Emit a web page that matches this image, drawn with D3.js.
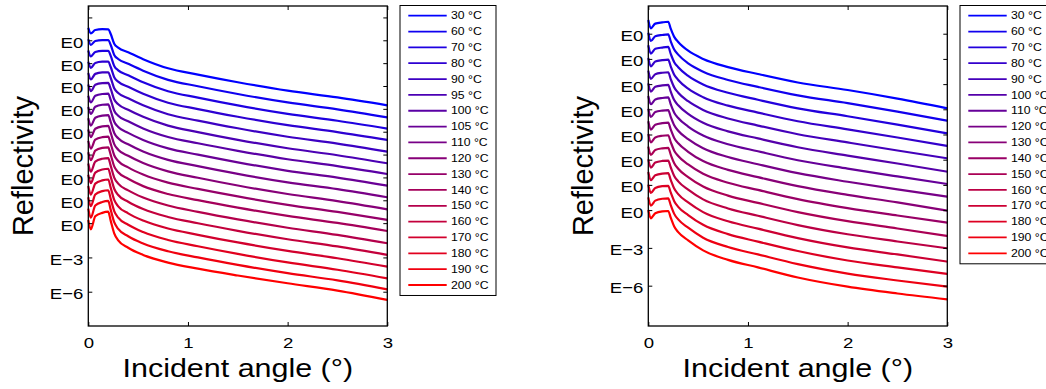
<!DOCTYPE html>
<html>
<head>
<meta charset="utf-8">
<script src="https://cdn.jsdelivr.net/npm/d3@7"></script>
<style>
  body { margin: 0; background: #fff; }
  svg { display: block; }
  text { font-family: "Liberation Sans", Arial, Helvetica, sans-serif; fill: #000; }
</style>
</head>
<body>
<svg id="fig" width="1046" height="389"></svg>
<script>
// Incident angle grid (degrees) shared by every curve
const angles = [0, 0.025, 0.07, 0.14, 0.2, 0.225, 0.26, 0.3, 0.4, 0.55, 0.8, 1.1, 1.5, 2.0, 2.5, 3.0];

// Left panel: temperatures, decade shift of each curve, log10 reflectivity of each curve
const tempsLeft = [30, 60, 70, 80, 90, 95, 100, 105, 110, 120, 130, 140, 150, 160, 170, 180, 190, 200];
const shiftLeft = [17, 16, 15, 14, 13, 12, 11, 10, 9, 8, 7, 6, 5, 4, 3, 2, 1, 0];
const logReflLeft = [
  [0.08, -0.39, -0.10, -0.03, -0.04, -0.45, -1.30, -1.65, -2.05, -2.65, -3.45, -4.00, -4.67, -5.41, -6.00, -6.69],
  [0.09, -0.40, -0.06,  0.02,  0.02, -0.41, -1.28, -1.64, -2.06, -2.66, -3.46, -4.02, -4.70, -5.44, -6.04, -6.74],
  [0.10, -0.41, -0.02,  0.08,  0.08, -0.37, -1.25, -1.63, -2.06, -2.67, -3.46, -4.02, -4.70, -5.44, -6.04, -6.73],
  [0.12, -0.42,  0.02,  0.13,  0.14, -0.34, -1.23, -1.62, -2.07, -2.68, -3.46, -4.02, -4.69, -5.43, -6.03, -6.72],
  [0.13, -0.43,  0.06,  0.19,  0.20, -0.30, -1.20, -1.61, -2.08, -2.69, -3.47, -4.03, -4.70, -5.44, -6.04, -6.74],
  [0.14, -0.44,  0.10,  0.25,  0.27, -0.26, -1.18, -1.60, -2.08, -2.70, -3.47, -4.03, -4.71, -5.45, -6.06, -6.76],
  [0.15, -0.44,  0.14,  0.30,  0.33, -0.22, -1.16, -1.60, -2.09, -2.71, -3.46, -4.01, -4.67, -5.41, -6.01, -6.70],
  [0.16, -0.45,  0.18,  0.36,  0.39, -0.18, -1.13, -1.59, -2.10, -2.72, -3.46, -4.01, -4.68, -5.42, -6.02, -6.72],
  [0.18, -0.46,  0.22,  0.41,  0.45, -0.15, -1.11, -1.58, -2.10, -2.73, -3.46, -4.01, -4.69, -5.43, -6.03, -6.74],
  [0.19, -0.47,  0.26,  0.47,  0.51, -0.11, -1.09, -1.57, -2.11, -2.74, -3.47, -4.03, -4.71, -5.45, -6.07, -6.79],
  [0.20, -0.48,  0.30,  0.52,  0.57, -0.07, -1.06, -1.56, -2.12, -2.75, -3.46, -4.00, -4.66, -5.40, -6.02, -6.72],
  [0.21, -0.49,  0.34,  0.58,  0.63, -0.03, -1.04, -1.55, -2.12, -2.76, -3.45, -3.99, -4.64, -5.37, -5.98, -6.69],
  [0.22, -0.50,  0.38,  0.63,  0.69,  0.01, -1.01, -1.54, -2.13, -2.76, -3.46, -4.01, -4.67, -5.40, -6.03, -6.76],
  [0.24, -0.50,  0.42,  0.69,  0.76,  0.05, -0.99, -1.54, -2.13, -2.77, -3.46, -4.01, -4.67, -5.41, -6.04, -6.78],
  [0.25, -0.51,  0.46,  0.74,  0.82,  0.09, -0.97, -1.53, -2.14, -2.77, -3.47, -4.02, -4.69, -5.43, -6.07, -6.81],
  [0.26, -0.52,  0.50,  0.80,  0.88,  0.12, -0.94, -1.52, -2.14, -2.78, -3.47, -4.02, -4.69, -5.44, -6.08, -6.83],
  [0.27, -0.53,  0.54,  0.85,  0.94,  0.16, -0.92, -1.51, -2.15, -2.78, -3.46, -4.00, -4.65, -5.38, -6.01, -6.79],
  [0.28, -0.54,  0.60,  0.90,  1.00,  0.20, -0.90, -1.50, -2.15, -2.78, -3.45, -3.98, -4.58, -5.26, -5.90, -6.72]
];

// Right panel
const tempsRight = [30, 60, 70, 80, 90, 100, 110, 120, 130, 140, 150, 160, 170, 180, 190, 200];
const shiftRight = [15, 14, 13, 12, 11, 10, 9, 8, 7, 6, 5, 4, 3, 2, 1, 0];
const logReflRight = [
  [0.09, -0.57, -0.20, -0.10, -0.05, -0.60, -1.25, -1.65, -2.35, -3.00, -3.65, -4.20, -4.87, -5.47, -6.15, -6.92],
  [0.08, -0.58, -0.20, -0.10, -0.05, -0.60, -1.25, -1.66, -2.35, -3.01, -3.67, -4.22, -4.89, -5.51, -6.18, -6.90],
  [0.08, -0.58, -0.20, -0.10, -0.05, -0.60, -1.26, -1.66, -2.35, -3.03, -3.69, -4.24, -4.92, -5.55, -6.21, -6.91],
  [0.07, -0.59, -0.21, -0.10, -0.05, -0.60, -1.26, -1.67, -2.36, -3.04, -3.71, -4.26, -4.95, -5.59, -6.24, -6.91],
  [0.07, -0.59, -0.21, -0.10, -0.06, -0.60, -1.26, -1.68, -2.36, -3.05, -3.73, -4.29, -4.98, -5.63, -6.27, -6.89],
  [0.06, -0.60, -0.21, -0.10, -0.06, -0.60, -1.27, -1.68, -2.36, -3.07, -3.75, -4.31, -5.01, -5.67, -6.30, -6.95],
  [0.06, -0.60, -0.22, -0.10, -0.06, -0.60, -1.27, -1.69, -2.37, -3.08, -3.77, -4.33, -5.04, -5.71, -6.33, -6.93],
  [0.05, -0.61, -0.22, -0.10, -0.06, -0.60, -1.27, -1.70, -2.37, -3.09, -3.79, -4.36, -5.07, -5.75, -6.36, -6.93],
  [0.05, -0.61, -0.22, -0.10, -0.06, -0.60, -1.28, -1.70, -2.37, -3.11, -3.81, -4.38, -5.10, -5.79, -6.39, -7.04],
  [0.04, -0.62, -0.23, -0.10, -0.06, -0.60, -1.28, -1.71, -2.38, -3.12, -3.83, -4.40, -5.13, -5.84, -6.43, -6.99],
  [0.04, -0.62, -0.23, -0.10, -0.06, -0.60, -1.28, -1.72, -2.38, -3.13, -3.85, -4.43, -5.16, -5.88, -6.46, -7.05],
  [0.03, -0.63, -0.23, -0.10, -0.07, -0.60, -1.29, -1.72, -2.38, -3.15, -3.87, -4.45, -5.19, -5.92, -6.49, -7.03],
  [0.02, -0.63, -0.24, -0.10, -0.07, -0.60, -1.29, -1.73, -2.39, -3.16, -3.89, -4.47, -5.22, -5.96, -6.52, -7.09],
  [0.02, -0.64, -0.24, -0.10, -0.07, -0.60, -1.29, -1.74, -2.39, -3.17, -3.91, -4.50, -5.25, -6.00, -6.55, -7.07],
  [0.01, -0.64, -0.25, -0.10, -0.07, -0.60, -1.30, -1.74, -2.40, -3.19, -3.93, -4.52, -5.29, -6.04, -6.59, -7.08],
  [0.01, -0.65, -0.25, -0.10, -0.07, -0.60, -1.30, -1.75, -2.40, -3.20, -3.95, -4.55, -5.35, -6.08, -6.62, -7.08]
];

// Axis ticks and their labels
const xTicks = [0, 1, 2, 3];
const yTicksLeft = [-6, -3, 0, 2, 4, 6, 8, 10, 12, 14, 16, 18];
const yTickLabelsLeft = ["E\u22126", "E\u22123", "E0", "E0", "E0", "E0", "E0", "E0", "E0", "E0", "E0", ""];
const yTicksRight = [-6, -3, 0, 2, 4, 6, 8, 10, 12, 14];
const yTickLabelsRight = ["E\u22126", "E\u22123", "E0", "E0", "E0", "E0", "E0", "E0", "E0", "E0"];

// horizontal text is set in a slightly widened face
const WIDE = 1.2;

const svg = d3.select("#fig");

function drawPanel(opt) {
  const x = d3.scaleLinear().domain([0, 3]).range([opt.left, opt.left + 299]);
  const y = d3.scaleLinear().domain(opt.yDomain).range([326, 6]);
  const g = svg.append("g");
  const n = opt.temps.length;
  const color = i => d3.interpolateRgb("#0000ff", "#ff0000")(i / (n - 1));

  // curves, bottom one first so upper curves sit on top
  const line = d3.line()
    .x(d => x(d[0]))
    .y(d => y(d[1]))
    .curve(d3.curveMonotoneX);
  const series = opt.refl.map((vals, i) => ({
    i,
    pts: angles.map((a, k) => [a, vals[k] + opt.shift[i]])
  }));
  g.append("g").selectAll("path")
    .data(series.slice().reverse())
    .join("path")
    .attr("d", s => line(s.pts))
    .attr("fill", "none")
    .attr("stroke", s => color(s.i))
    .attr("stroke-width", 2.2)
    .attr("stroke-linejoin", "round");

  const tickLen = 4;
  const xb = g.append("g").attr("transform", `translate(0,326)`)
    .call(d3.axisBottom(x).tickValues(xTicks).tickSize(-tickLen).tickSizeOuter(0).tickPadding(10.5).tickFormat(d3.format("d")));
  const xt = g.append("g").attr("transform", `translate(0,6)`)
    .call(d3.axisTop(x).tickValues(xTicks).tickSize(-tickLen).tickSizeOuter(0).tickFormat(""));
  const yl = g.append("g").attr("transform", `translate(${opt.left},0)`)
    .call(d3.axisLeft(y).tickValues(opt.yTicks).tickSize(-tickLen).tickSizeOuter(0).tickPadding(4.2)
      .tickFormat((d, i) => opt.yLabels[i]));
  const yr = g.append("g").attr("transform", `translate(${opt.left + 299},0)`)
    .call(d3.axisRight(y).tickValues(opt.yTicks).tickSize(-tickLen).tickSizeOuter(0).tickFormat(""));
  [xb, xt, yl, yr].forEach(a => {
    a.select(".domain").remove();
    a.selectAll(".tick line").attr("stroke", "#000").attr("stroke-width", 1);
    a.selectAll("text").style("font-size", "15.5px").attr("fill", "#000")
      .attr("transform", `scale(${WIDE},1)`);
  });
  yl.selectAll("text").attr("dy", "0.45em");

  g.append("rect")
    .attr("x", opt.left).attr("y", 6).attr("width", 299).attr("height", 320)
    .attr("fill", "none").attr("stroke", "#000").attr("stroke-width", 1.3);

  g.append("text")
    .attr("transform", `translate(${opt.left + 149.5},376.5) scale(1.19,1)`)
    .attr("text-anchor", "middle")
    .style("font-size", "25.6px")
    .text("Incident angle (\u00b0)");
  g.append("text")
    .attr("transform", `translate(${opt.left - 55},166) rotate(-90)`)
    .attr("text-anchor", "middle")
    .style("font-size", "29px")
    .text("Reflectivity");

  // legend (the right-hand box runs past the page edge)
  const lg = g.append("g").attr("transform", `translate(${opt.legendX},5.5)`);
  lg.append("rect")
    .attr("width", 96).attr("height", 20.7 + 15.84 * (n - 1))
    .attr("fill", "#fff").attr("stroke", "#000").attr("stroke-width", 1);
  const items = lg.selectAll("g.item").data(opt.temps).join("g")
    .attr("class", "item")
    .attr("transform", (d, i) => `translate(0,${10.2 + 15.84 * i})`);
  items.append("line")
    .attr("x1", 8.3).attr("x2", 46.7)
    .attr("stroke", (d, i) => color(i)).attr("stroke-width", 1.8);
  items.append("text")
    .attr("transform", `translate(51,0) scale(${WIDE},1)`)
    .attr("dy", "0.36em")
    .style("font-size", "10.2px")
    .text(d => `${d} \u00b0C`);
}

drawPanel({
  left: 88.3, yDomain: [-9, 19], temps: tempsLeft, shift: shiftLeft, refl: logReflLeft,
  yTicks: yTicksLeft, yLabels: yTickLabelsLeft, legendX: 400
});
drawPanel({
  left: 648.3, yDomain: [-9.2, 16.2], temps: tempsRight, shift: shiftRight, refl: logReflRight,
  yTicks: yTicksRight, yLabels: yTickLabelsRight, legendX: 960
});
</script>
</body>
</html>
